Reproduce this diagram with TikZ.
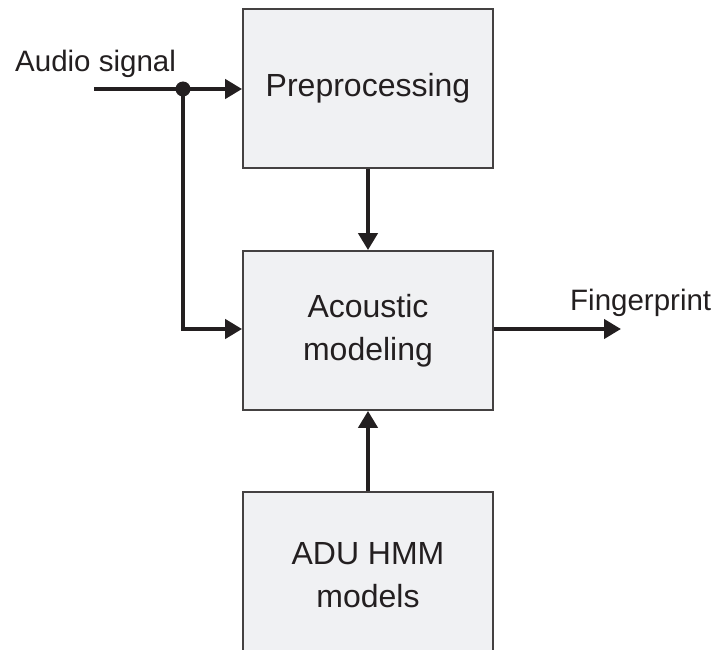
\documentclass[tikz,border=0pt]{standalone}
\usepackage{fontspec}
\setmainfont{Liberation Sans}
\usetikzlibrary{arrows.meta}
\definecolor{ink}{HTML}{231F20}
\definecolor{boxfill}{HTML}{F0F1F3}
\tikzset{
  blockbox/.style={draw=ink!85, line width=1.8pt, fill=boxfill, minimum width=250pt, minimum height=159pt, inner sep=0pt, align=center, text=ink, font=\fontsize{32}{43}\selectfont},
  lbl/.style={text=ink, font=\fontsize{29.5}{36}\selectfont, inner sep=0pt},
  flow/.style={draw=ink, line width=4.2pt, -{Triangle[length=17pt,width=19pt]}},
  wire/.style={draw=ink, line width=4.2pt}
}
\begin{document}
\begin{tikzpicture}[x=1pt,y=-1pt]
\useasboundingbox (0,0) rectangle (715,650);
\node[blockbox] (pre) at (368,88.5) {Preprocessing};
\node[blockbox] (ac) at (368,330.5) {Acoustic\\modeling};
\node[blockbox, minimum height=166pt] (adu) at (368,575) {ADU HMM\\models};
\node[lbl, anchor=base west] (audio) at (15,72) {Audio signal};
\node[lbl, anchor=base west] (fp) at (570,310) {Fingerprint};
\coordinate (src) at (94,89);
\coordinate (jn) at (183,89);
\coordinate (out) at (621,329);
\draw[wire] (src) -- (jn);
\draw[flow] (jn) -- (pre.west |- jn);
\draw[flow] (jn) |- (ac.west |- 0,329);
\fill[ink] (jn) circle (7.5pt);
\draw[flow] (pre.south) -- (ac.north);
\draw[flow] (adu.north) -- (ac.south);
\draw[flow] (ac.east |- out) -- (out);
\end{tikzpicture}
\end{document}
